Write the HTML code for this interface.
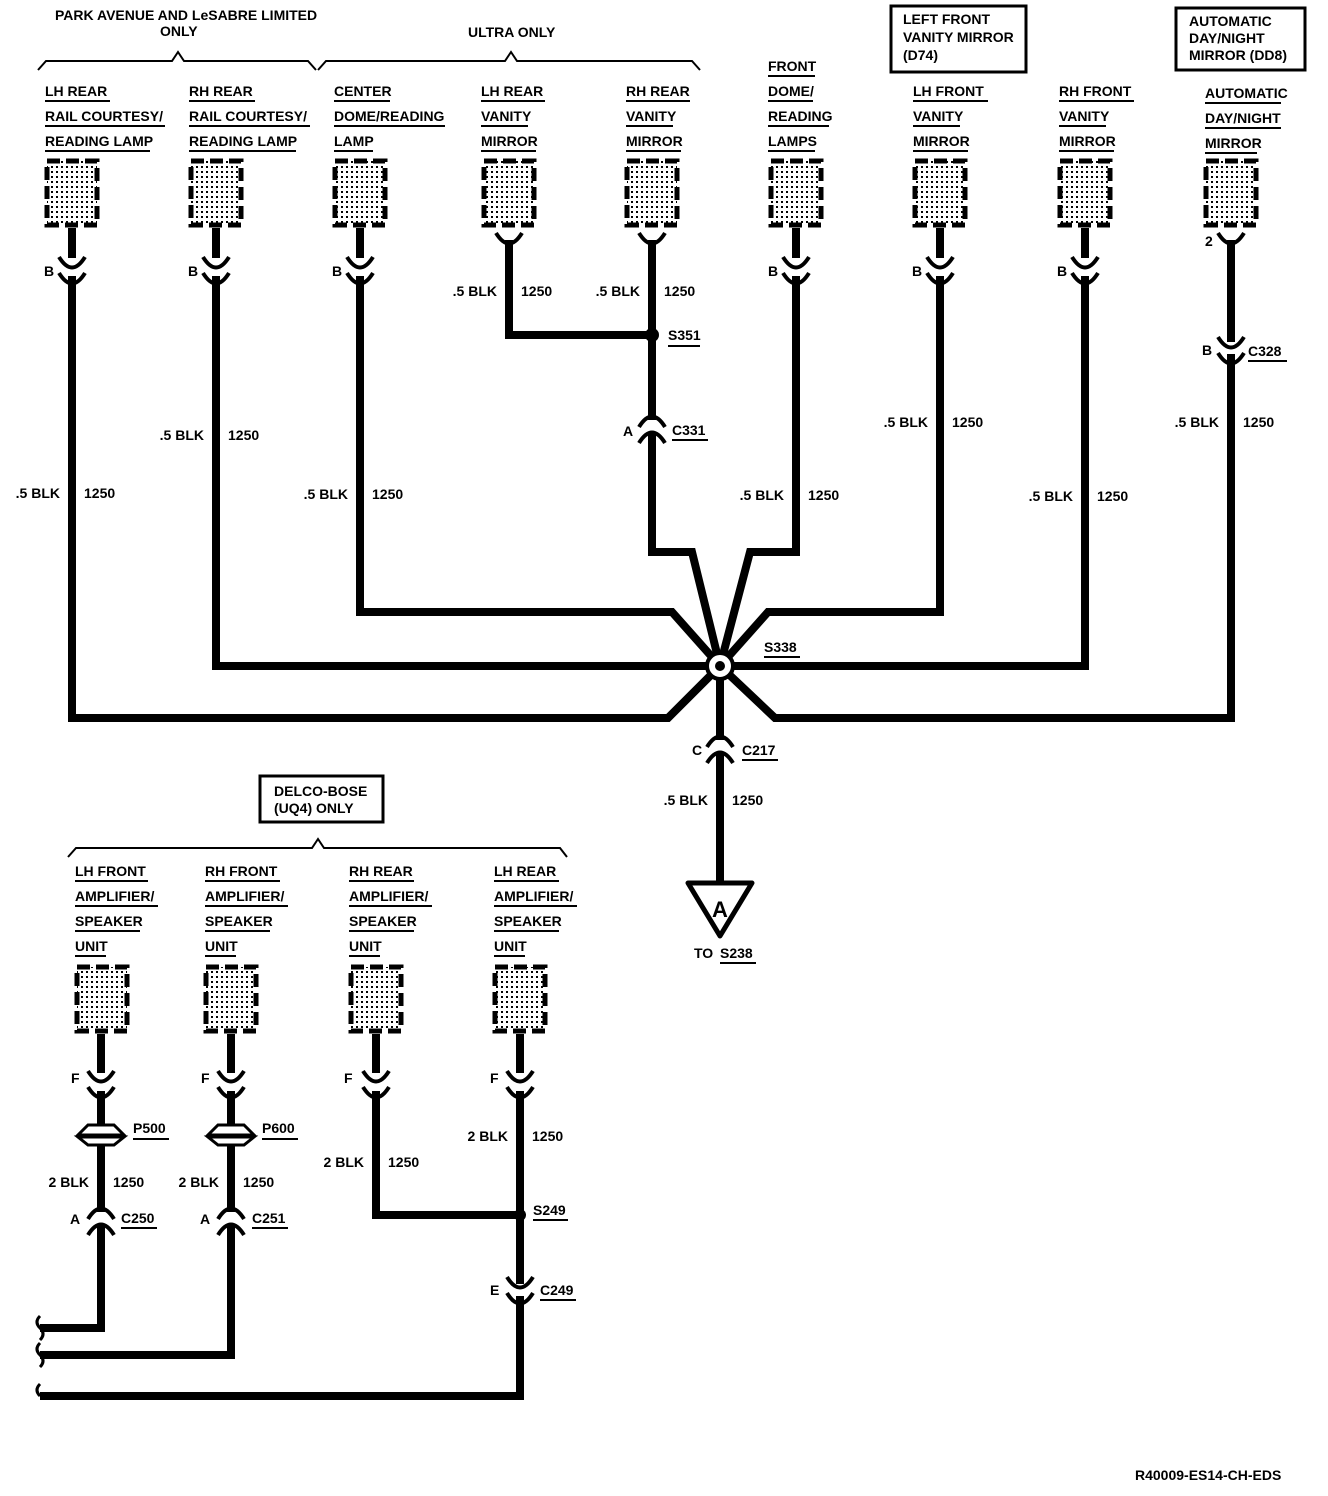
<!DOCTYPE html>
<html><head><meta charset="utf-8"><style>
html,body{margin:0;padding:0;background:#fff;}
svg{display:block;}
text{font-family:"Liberation Sans",sans-serif;font-size:14px;font-weight:bold;fill:#000;}
.w{stroke:#000;stroke-width:8;fill:none;stroke-linejoin:miter;}
.a{stroke:#000;stroke-width:4;fill:none;}
.u{stroke:#000;stroke-width:2;}
.box{fill:url(#dots);stroke:#000;stroke-width:5;stroke-dasharray:13 6;}
</style></head><body>
<svg width="1328" height="1496" viewBox="0 0 1328 1496" xmlns="http://www.w3.org/2000/svg">
<defs>
<pattern id="dots" width="5" height="5" patternUnits="userSpaceOnUse"><rect width="5" height="5" fill="#fff"/><rect x="1" y="1" width="2" height="2" fill="#000"/></pattern>
<g id="sm"><path class="a" d="M-13 -7 Q0 14 13 -7"/></g>
<g id="fr"><path class="a" d="M-13 7 Q0 -14 13 7"/></g>
</defs>

<text x="55" y="20">PARK AVENUE AND LeSABRE LIMITED</text>
<text x="160" y="36">ONLY</text>
<polyline class="a" style="stroke-width:2" points="38,70 46,61 172,61 178,52 184,61 308,61 316,70"/>
<text x="468" y="37">ULTRA ONLY</text>
<polyline class="a" style="stroke-width:2" points="318,70 326,61 505,61 511,52 517,61 692,61 700,70"/>
<rect x="891" y="6" width="135" height="66" fill="none" stroke="#000" stroke-width="3"/>
<text x="903" y="24">LEFT FRONT</text><text x="903" y="42">VANITY MIRROR</text><text x="903" y="60">(D74)</text>
<rect x="1176" y="8" width="129" height="62" fill="none" stroke="#000" stroke-width="3"/>
<text x="1189" y="26">AUTOMATIC</text><text x="1189" y="43">DAY/NIGHT</text><text x="1189" y="60">MIRROR (DD8)</text>

<g>
<text x="45" y="96">LH REAR</text><text x="45" y="121">RAIL COURTESY/</text><text x="45" y="146">READING LAMP</text>
<line class="u" x1="45" y1="101" x2="110" y2="101"/><line class="u" x1="45" y1="126" x2="165" y2="126"/><line class="u" x1="45" y1="151" x2="150" y2="151"/>
<text x="189" y="96">RH REAR</text><text x="189" y="121">RAIL COURTESY/</text><text x="189" y="146">READING LAMP</text>
<line class="u" x1="189" y1="101" x2="255" y2="101"/><line class="u" x1="189" y1="126" x2="310" y2="126"/><line class="u" x1="189" y1="151" x2="296" y2="151"/>
<text x="334" y="96">CENTER</text><text x="334" y="121">DOME/READING</text><text x="334" y="146">LAMP</text>
<line class="u" x1="334" y1="101" x2="390" y2="101"/><line class="u" x1="334" y1="126" x2="445" y2="126"/><line class="u" x1="334" y1="151" x2="373" y2="151"/>
<text x="481" y="96">LH REAR</text><text x="481" y="121">VANITY</text><text x="481" y="146">MIRROR</text>
<line class="u" x1="481" y1="101" x2="545" y2="101"/><line class="u" x1="481" y1="126" x2="528" y2="126"/><line class="u" x1="481" y1="151" x2="536" y2="151"/>
<text x="626" y="96">RH REAR</text><text x="626" y="121">VANITY</text><text x="626" y="146">MIRROR</text>
<line class="u" x1="626" y1="101" x2="690" y2="101"/><line class="u" x1="626" y1="126" x2="673" y2="126"/><line class="u" x1="626" y1="151" x2="681" y2="151"/>
<text x="768" y="71">FRONT</text><text x="768" y="96">DOME/</text><text x="768" y="121">READING</text><text x="768" y="146">LAMPS</text>
<line class="u" x1="768" y1="76" x2="815" y2="76"/><line class="u" x1="768" y1="101" x2="813" y2="101"/><line class="u" x1="768" y1="126" x2="829" y2="126"/><line class="u" x1="768" y1="151" x2="815" y2="151"/>
<text x="913" y="96">LH FRONT</text><text x="913" y="121">VANITY</text><text x="913" y="146">MIRROR</text>
<line class="u" x1="913" y1="101" x2="988" y2="101"/><line class="u" x1="913" y1="126" x2="960" y2="126"/><line class="u" x1="913" y1="151" x2="968" y2="151"/>
<text x="1059" y="96">RH FRONT</text><text x="1059" y="121">VANITY</text><text x="1059" y="146">MIRROR</text>
<line class="u" x1="1059" y1="101" x2="1134" y2="101"/><line class="u" x1="1059" y1="126" x2="1106" y2="126"/><line class="u" x1="1059" y1="151" x2="1114" y2="151"/>
<text x="1205" y="98">AUTOMATIC</text><text x="1205" y="123">DAY/NIGHT</text><text x="1205" y="148">MIRROR</text>
<line class="u" x1="1205" y1="103" x2="1281" y2="103"/><line class="u" x1="1205" y1="128" x2="1281" y2="128"/><line class="u" x1="1205" y1="153" x2="1257" y2="153"/>
</g>

<rect class="box" x="47" y="161" width="50" height="64"/>
<rect class="box" x="191" y="161" width="50" height="64"/>
<rect class="box" x="335" y="161" width="50" height="64"/>
<rect class="box" x="484" y="161" width="50" height="64"/>
<rect class="box" x="627" y="161" width="50" height="64"/>
<rect class="box" x="771" y="161" width="50" height="64"/>
<rect class="box" x="915" y="161" width="50" height="64"/>
<rect class="box" x="1060" y="161" width="50" height="64"/>
<rect class="box" x="1206" y="161" width="50" height="64"/>

<path class="w" d="M72 228 V718 H668 L720 666"/>
<path class="w" d="M216 228 V666 H720"/>
<path class="w" d="M360 228 V612 H672 L720 666"/>
<path class="w" d="M509 240 V335 H652"/>
<path class="w" d="M652 240 V552 H692 L720 666"/>
<path class="w" d="M796 228 V552 H750 L720 666"/>
<path class="w" d="M940 228 V612 H768 L720 666"/>
<path class="w" d="M1085 228 V666 H720"/>
<path class="w" d="M1231 240 V718 H775 L720 666"/>
<path class="w" d="M720 666 V885"/>
<g fill="#fff">
<rect x="60" y="258" width="24" height="18"/><rect x="204" y="258" width="24" height="18"/><rect x="348" y="258" width="24" height="18"/>
<rect x="784" y="258" width="24" height="18"/><rect x="928" y="258" width="24" height="18"/><rect x="1073" y="258" width="24" height="18"/>
<rect x="640" y="420" width="24" height="12"/><rect x="1219" y="342" width="24" height="12"/><rect x="708" y="740" width="24" height="12"/>
</g>
<g>
<use href="#sm" x="72" y="264"/><use href="#sm" x="72" y="280"/>
<use href="#sm" x="216" y="264"/><use href="#sm" x="216" y="280"/>
<use href="#sm" x="360" y="264"/><use href="#sm" x="360" y="280"/>
<use href="#sm" x="796" y="264"/><use href="#sm" x="796" y="280"/>
<use href="#sm" x="940" y="264"/><use href="#sm" x="940" y="280"/>
<use href="#sm" x="1085" y="264"/><use href="#sm" x="1085" y="280"/>
<use href="#sm" x="509" y="240"/><use href="#sm" x="652" y="240"/><use href="#sm" x="1231" y="240"/>
<use href="#sm" x="1231" y="344"/><use href="#sm" x="1231" y="360"/>
<use href="#fr" x="652" y="420"/><use href="#fr" x="652" y="436"/>
<use href="#fr" x="720" y="740"/><use href="#fr" x="720" y="756"/>
</g>
<text x="44" y="276">B</text><text x="188" y="276">B</text><text x="332" y="276">B</text><text x="768" y="276">B</text><text x="912" y="276">B</text><text x="1057" y="276">B</text>
<text x="1205" y="246">2</text><text x="1202" y="355">B</text><text x="1248" y="356">C328</text><line class="u" x1="1248" y1="361" x2="1287" y2="361"/>
<text x="623" y="436">A</text><text x="672" y="435">C331</text><line class="u" x1="672" y1="440" x2="708" y2="440"/>
<text x="692" y="755">C</text><text x="742" y="755">C217</text><line class="u" x1="742" y1="760" x2="778" y2="760"/>
<circle cx="652" cy="335" r="7" fill="#000"/>
<text x="668" y="340">S351</text><line class="u" x1="668" y1="346" x2="700" y2="346"/>
<circle cx="720" cy="666" r="13" fill="#fff" stroke="#000" stroke-width="4"/><circle cx="720" cy="666" r="5" fill="#000"/>
<text x="764" y="652">S338</text><line class="u" x1="764" y1="657" x2="800" y2="657"/>

<g>
<text x="60" y="498" text-anchor="end">.5 BLK</text><text x="84" y="498">1250</text>
<text x="204" y="440" text-anchor="end">.5 BLK</text><text x="228" y="440">1250</text>
<text x="348" y="499" text-anchor="end">.5 BLK</text><text x="372" y="499">1250</text>
<text x="497" y="296" text-anchor="end">.5 BLK</text><text x="521" y="296">1250</text>
<text x="640" y="296" text-anchor="end">.5 BLK</text><text x="664" y="296">1250</text>
<text x="784" y="500" text-anchor="end">.5 BLK</text><text x="808" y="500">1250</text>
<text x="928" y="427" text-anchor="end">.5 BLK</text><text x="952" y="427">1250</text>
<text x="1073" y="501" text-anchor="end">.5 BLK</text><text x="1097" y="501">1250</text>
<text x="1219" y="427" text-anchor="end">.5 BLK</text><text x="1243" y="427">1250</text>
<text x="708" y="805" text-anchor="end">.5 BLK</text><text x="732" y="805">1250</text>
</g>
<polygon points="688,883 752,883 720,936" fill="#fff" stroke="#000" stroke-width="5" stroke-linejoin="round"/>
<text x="720" y="917" text-anchor="middle" style="font-size:22px">A</text>
<text x="694" y="958">TO</text><text x="720" y="958">S238</text><line class="u" x1="720" y1="963" x2="756" y2="963"/>

<rect x="260" y="776" width="123" height="46" fill="none" stroke="#000" stroke-width="3"/>
<text x="274" y="796">DELCO-BOSE</text><text x="274" y="813">(UQ4) ONLY</text>
<polyline class="a" style="stroke-width:2" points="68,857 76,848 312,848 318,839 324,848 560,848 567,857"/>
<g>
<text x="75" y="876">LH FRONT</text><text x="75" y="901">AMPLIFIER/</text><text x="75" y="926">SPEAKER</text><text x="75" y="951">UNIT</text>
<line class="u" x1="75" y1="881" x2="148" y2="881"/><line class="u" x1="75" y1="906" x2="158" y2="906"/><line class="u" x1="75" y1="931" x2="140" y2="931"/><line class="u" x1="75" y1="956" x2="106" y2="956"/>
<text x="205" y="876">RH FRONT</text><text x="205" y="901">AMPLIFIER/</text><text x="205" y="926">SPEAKER</text><text x="205" y="951">UNIT</text>
<line class="u" x1="205" y1="881" x2="280" y2="881"/><line class="u" x1="205" y1="906" x2="288" y2="906"/><line class="u" x1="205" y1="931" x2="270" y2="931"/><line class="u" x1="205" y1="956" x2="236" y2="956"/>
<text x="349" y="876">RH REAR</text><text x="349" y="901">AMPLIFIER/</text><text x="349" y="926">SPEAKER</text><text x="349" y="951">UNIT</text>
<line class="u" x1="349" y1="881" x2="414" y2="881"/><line class="u" x1="349" y1="906" x2="432" y2="906"/><line class="u" x1="349" y1="931" x2="414" y2="931"/><line class="u" x1="349" y1="956" x2="380" y2="956"/>
<text x="494" y="876">LH REAR</text><text x="494" y="901">AMPLIFIER/</text><text x="494" y="926">SPEAKER</text><text x="494" y="951">UNIT</text>
<line class="u" x1="494" y1="881" x2="559" y2="881"/><line class="u" x1="494" y1="906" x2="577" y2="906"/><line class="u" x1="494" y1="931" x2="559" y2="931"/><line class="u" x1="494" y1="956" x2="525" y2="956"/>
</g>
<rect class="box" x="77" y="967" width="50" height="64"/>
<rect class="box" x="206" y="967" width="50" height="64"/>
<rect class="box" x="351" y="967" width="50" height="64"/>
<rect class="box" x="495" y="967" width="50" height="64"/>
<path class="w" d="M101 1034 V1328 H40"/>
<path class="w" d="M231 1034 V1355 H40"/>
<path class="w" d="M376 1034 V1215 H520"/>
<path class="w" d="M520 1034 V1396 H40"/>
<g fill="#fff">
<rect x="89" y="1073" width="24" height="18"/><rect x="219" y="1073" width="24" height="18"/><rect x="364" y="1073" width="24" height="18"/><rect x="508" y="1073" width="24" height="18"/>
<rect x="89" y="1212" width="24" height="12"/><rect x="219" y="1212" width="24" height="12"/><rect x="508" y="1284" width="24" height="12"/>
</g>
<use href="#sm" x="101" y="1078"/><use href="#sm" x="101" y="1094"/>
<use href="#sm" x="231" y="1078"/><use href="#sm" x="231" y="1094"/>
<use href="#sm" x="376" y="1078"/><use href="#sm" x="376" y="1094"/>
<use href="#sm" x="520" y="1078"/><use href="#sm" x="520" y="1094"/>
<use href="#fr" x="101" y="1212"/><use href="#fr" x="101" y="1228"/>
<use href="#fr" x="231" y="1212"/><use href="#fr" x="231" y="1228"/>
<use href="#sm" x="520" y="1284"/><use href="#sm" x="520" y="1300"/>
<text x="71" y="1083">F</text><text x="201" y="1083">F</text><text x="344" y="1083">F</text><text x="490" y="1083">F</text>
<g>
<polygon points="88,1125 114,1125 124,1135 78,1135" fill="#fff" stroke="#000" stroke-width="3"/>
<polygon points="78,1137 124,1137 114,1145 88,1145" fill="#fff" stroke="#000" stroke-width="3"/>
<polygon points="218,1125 244,1125 254,1135 208,1135" fill="#fff" stroke="#000" stroke-width="3"/>
<polygon points="208,1137 254,1137 244,1145 218,1145" fill="#fff" stroke="#000" stroke-width="3"/>
</g>
<text x="133" y="1133">P500</text><line class="u" x1="133" y1="1139" x2="169" y2="1139"/>
<text x="262" y="1133">P600</text><line class="u" x1="262" y1="1139" x2="298" y2="1139"/>
<text x="89" y="1187" text-anchor="end">2 BLK</text><text x="113" y="1187">1250</text>
<text x="219" y="1187" text-anchor="end">2 BLK</text><text x="243" y="1187">1250</text>
<text x="364" y="1167" text-anchor="end">2 BLK</text><text x="388" y="1167">1250</text>
<text x="508" y="1141" text-anchor="end">2 BLK</text><text x="532" y="1141">1250</text>
<text x="70" y="1224">A</text><text x="121" y="1223">C250</text><line class="u" x1="121" y1="1228" x2="157" y2="1228"/>
<text x="200" y="1224">A</text><text x="252" y="1223">C251</text><line class="u" x1="252" y1="1228" x2="288" y2="1228"/>
<circle cx="520" cy="1215" r="6" fill="#000"/>
<text x="533" y="1215">S249</text><line class="u" x1="533" y1="1220" x2="568" y2="1220"/>
<text x="490" y="1295">E</text><text x="540" y="1295">C249</text><line class="u" x1="540" y1="1300" x2="576" y2="1300"/>
<g class="a" style="stroke-width:3">
<path d="M40 1316 q-6 6 0 12 q6 6 0 12"/><path d="M40 1343 q-6 6 0 12 q6 6 0 12"/><path d="M40 1384 q-6 6 0 12"/>
</g>
<text x="1135" y="1480">R40009-ES14-CH-EDS</text>
</svg>
</body></html>
